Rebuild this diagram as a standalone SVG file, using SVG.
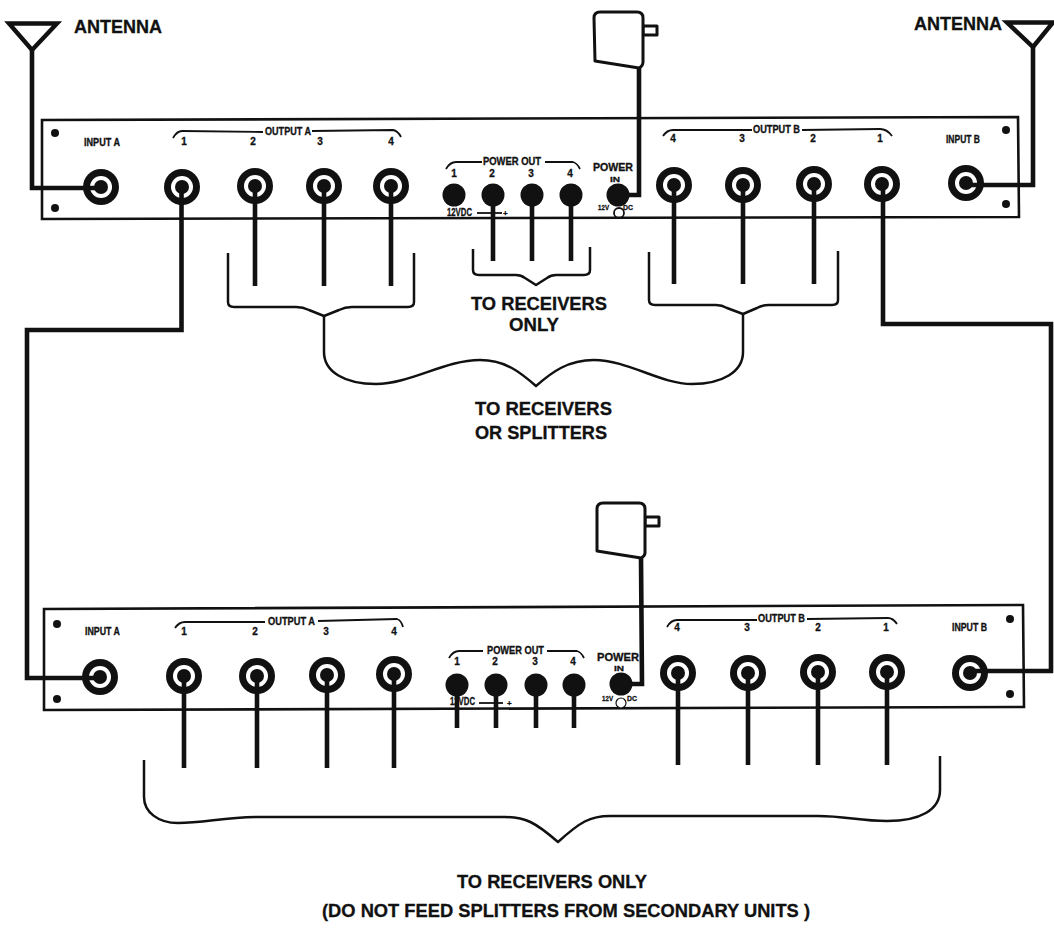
<svg xmlns="http://www.w3.org/2000/svg" width="1054" height="928" viewBox="0 0 1054 928">
<style>
text{font-family:"Liberation Sans",Arial,sans-serif;font-weight:700;fill:#111;stroke:#111;stroke-width:.3}
.big{font-size:18px}
.sm{font-size:10px}
.xs{font-size:8px}
.panel{fill:#fff;stroke:#111;stroke-width:2.6}
.thin{fill:none;stroke:#111;stroke-width:1.8;stroke-linejoin:round}
.brace{fill:none;stroke:#111;stroke-width:2.5;stroke-linejoin:round}
.cable{fill:none;stroke:#111;stroke-width:4.6;stroke-linejoin:miter}
.shape{fill:#fff;stroke:#111;stroke-width:3;stroke-linejoin:round}
.ant{fill:none;stroke:#111;stroke-width:4.4;stroke-linejoin:miter}
.dot{fill:#111}
</style>
<defs>
<g id="socket"><circle r="18" fill="#111"/><circle r="11" fill="#fff"/><circle r="7" fill="#111"/></g>
<g id="jack"><circle r="11.5" fill="#111"/></g>
</defs>
<rect width="1054" height="928" fill="#fff"/>

<g id="unit-top">
<path class="panel" d="M42 120L1018 117L1019 217L42 219Z"/>
<circle class="dot" cx="55" cy="133" r="4"/><circle class="dot" cx="55" cy="208" r="4"/>
<circle class="dot" cx="1006" cy="130" r="4"/><circle class="dot" cx="1006" cy="204" r="4"/>
<text class="sm" x="84" y="146" textLength="36" lengthAdjust="spacingAndGlyphs">INPUT A</text>
<path class="thin" d="M173 138Q177 131 182 131L263 132M312 131L393 130Q398 131 401 137"/>
<text class="sm" x="265" y="135" textLength="46" lengthAdjust="spacingAndGlyphs">OUTPUT A</text>
<text class="sm" text-anchor="middle" x="184" y="145">1</text><text class="sm" text-anchor="middle" x="253" y="145">2</text><text class="sm" text-anchor="middle" x="320" y="145">3</text><text class="sm" text-anchor="middle" x="391" y="145">4</text>
<path class="thin" d="M446 169Q450 162 456 162L482 162M545 162L573 162Q577 163 580 169"/>
<text class="sm" x="483" y="165" textLength="58" lengthAdjust="spacingAndGlyphs">POWER OUT</text>
<text class="sm" text-anchor="middle" x="454" y="177">1</text><text class="sm" text-anchor="middle" x="492" y="177">2</text><text class="sm" text-anchor="middle" x="531" y="177">3</text><text class="sm" text-anchor="middle" x="570" y="177">4</text>
<text class="sm" x="593" y="171" textLength="40" lengthAdjust="spacingAndGlyphs">POWER</text>
<text class="xs" x="610" y="182" textLength="10" lengthAdjust="spacingAndGlyphs">IN</text>
<text class="sm" x="447" y="216" textLength="25" lengthAdjust="spacingAndGlyphs">12VDC</text>
<path class="thin" d="M477 213H502"/><text class="xs" x="503" y="216">+</text>
<text class="xs" x="598" y="210" textLength="11" lengthAdjust="spacingAndGlyphs">12V</text>
<text class="xs" x="623" y="210" textLength="10" lengthAdjust="spacingAndGlyphs">DC</text>
<circle class="thin" cx="619" cy="213" r="5"/>
<path class="thin" d="M663 136Q667 130 673 130L752 130M802 130L880 129Q887 129 892 136"/>
<text class="sm" x="753" y="133" textLength="47" lengthAdjust="spacingAndGlyphs">OUTPUT B</text>
<text class="sm" text-anchor="middle" x="673" y="142">4</text><text class="sm" text-anchor="middle" x="742" y="142">3</text><text class="sm" text-anchor="middle" x="813" y="142">2</text><text class="sm" text-anchor="middle" x="880" y="142">1</text>
<text class="sm" x="946" y="143" textLength="34" lengthAdjust="spacingAndGlyphs">INPUT B</text>
<use href="#socket" x="101" y="187"/>
<use href="#socket" x="182" y="187"/><use href="#socket" x="255" y="186"/><use href="#socket" x="324" y="186"/><use href="#socket" x="391" y="186"/>
<use href="#jack" x="454" y="195"/><use href="#jack" x="493" y="195"/><use href="#jack" x="532" y="195"/><use href="#jack" x="571" y="195"/><use href="#jack" x="618" y="195"/>
<use href="#socket" x="674" y="185"/><use href="#socket" x="743" y="185"/><use href="#socket" x="814" y="184"/><use href="#socket" x="882" y="184"/><use href="#socket" x="966" y="183"/>
</g>

<g id="unit-bottom">
<path class="panel" d="M44 609L1023 605L1024 707L44 710Z"/>
<circle class="dot" cx="57" cy="624" r="4"/><circle class="dot" cx="57" cy="699" r="4"/>
<circle class="dot" cx="1010" cy="619" r="4"/><circle class="dot" cx="1010" cy="694" r="4"/>
<text class="sm" x="85" y="635" textLength="35" lengthAdjust="spacingAndGlyphs">INPUT A</text>
<path class="thin" d="M175 628Q179 622 185 622L265 622M318 621L397 619Q401 620 403 627"/>
<text class="sm" x="268" y="625" textLength="47" lengthAdjust="spacingAndGlyphs">OUTPUT A</text>
<text class="sm" text-anchor="middle" x="184" y="635">1</text><text class="sm" text-anchor="middle" x="255" y="635">2</text><text class="sm" text-anchor="middle" x="326" y="635">3</text><text class="sm" text-anchor="middle" x="394" y="635">4</text>
<path class="thin" d="M449 658Q453 651 459 651L483 651M547 651L577 651Q581 652 584 658"/>
<text class="sm" x="487" y="654" textLength="57" lengthAdjust="spacingAndGlyphs">POWER OUT</text>
<text class="sm" text-anchor="middle" x="457" y="665">1</text><text class="sm" text-anchor="middle" x="495" y="665">2</text><text class="sm" text-anchor="middle" x="535" y="665">3</text><text class="sm" text-anchor="middle" x="573" y="665">4</text>
<text class="sm" x="597" y="661" textLength="42" lengthAdjust="spacingAndGlyphs">POWER</text>
<text class="xs" x="614" y="671" textLength="10" lengthAdjust="spacingAndGlyphs">IN</text>
<text class="sm" x="450" y="705" textLength="25" lengthAdjust="spacingAndGlyphs">12VDC</text>
<path class="thin" d="M479 703H503"/><text class="xs" x="507" y="706">+</text>
<text class="xs" x="602" y="701" textLength="11" lengthAdjust="spacingAndGlyphs">12V</text>
<text class="xs" x="627" y="701" textLength="10" lengthAdjust="spacingAndGlyphs">DC</text>
<circle cx="621" cy="703" r="5" fill="#fff" stroke="#111" stroke-width="1.2"/>
<path class="thin" d="M667 627Q671 620 677 620L757 620M807 619L888 618Q893 618 897 624"/>
<text class="sm" x="758" y="622" textLength="47" lengthAdjust="spacingAndGlyphs">OUTPUT B</text>
<text class="sm" text-anchor="middle" x="677" y="631">4</text><text class="sm" text-anchor="middle" x="747" y="631">3</text><text class="sm" text-anchor="middle" x="818" y="631">2</text><text class="sm" text-anchor="middle" x="886" y="631">1</text>
<text class="sm" x="952" y="631" textLength="35" lengthAdjust="spacingAndGlyphs">INPUT B</text>
<use href="#socket" x="100" y="677"/>
<use href="#socket" x="184" y="676"/><use href="#socket" x="257" y="676"/><use href="#socket" x="327" y="675"/><use href="#socket" x="394" y="674"/>
<use href="#jack" x="457" y="685"/><use href="#jack" x="496" y="685"/><use href="#jack" x="536" y="685"/><use href="#jack" x="574" y="685"/><use href="#jack" x="621" y="684"/>
<use href="#socket" x="678" y="673"/><use href="#socket" x="748" y="673"/><use href="#socket" x="818" y="672"/><use href="#socket" x="887" y="672"/><use href="#socket" x="970" y="673"/>
</g>

<g id="antenna-left">
<path class="ant" d="M9 23.5H57L32 50Z"/>
<text class="big" x="74" y="33" textLength="88" lengthAdjust="spacingAndGlyphs">ANTENNA</text>
</g>
<g id="antenna-right">
<path class="ant" d="M1007 22.5H1053L1033 47Z"/>
<text class="big" x="914" y="30" textLength="88" lengthAdjust="spacingAndGlyphs">ANTENNA</text>
</g>
<g id="adapter-top">
<path class="shape" d="M643 35H657V26H643Z"/>
<path class="shape" d="M594 18Q594 12 600 12H637Q643 12 643 18V62Q643 66 639 68L595 61Z"/>
</g>
<g id="adapter-bottom">
<path class="shape" d="M645 526H659V517H645Z"/>
<path class="shape" d="M597 509Q597 503 603 503H639Q645 503 645 509V553Q645 556 641 558L597 551Z"/>
</g>

<g id="connectors">
<path class="cable" d="M32 50V188H101"/>
<path class="cable" d="M1033 47V185H966"/>
<path class="cable" d="M639 68V195H618"/>
<path class="cable" d="M641 558L642 684H621"/>
<path class="cable" d="M181.500 187V330H27V678H100"/>
<path class="cable" d="M883 184V324H1051V671H970"/>
<path class="cable" d="M255 186V286M324 186V286M391 186V286"/>
<path class="cable" d="M493 195V261M532 195V261M571 195V261"/>
<path class="cable" d="M674 185V284M743 185V284M814 184V284"/>
<path class="cable" d="M184 676V768M257 676V768M327 675V768M394 674V768"/>
<path class="cable" d="M457 685V728M496 685V728M536 685V728M574 685V728"/>
<path class="cable" d="M678 673V765M748 673V765M818 672V765M887 672V765"/>
</g>

<g id="braces">
<path class="brace" d="M228 253V302Q228 307 234 307H296Q303 307 309 310L324 316L339 310Q345 307 352 307H408Q414 307 414 302V253"/>
<path class="brace" d="M473 249V270Q473 275 479 275H516Q521 275 525 278L536 285L547 278Q551 275 556 275H584Q590 275 590 270V247"/>
<path class="brace" d="M649 252V300Q649 305 655 305H716Q722 305 727 308L743 314L757 308Q762 305 769 305H832Q838 305 838 300V251"/>
<path class="brace" d="M324 316V352C324 372 345 384 376 384C410 384 445 360 480 360C505 360 520 372 536 386C552 372 568 360 594 360C628 360 660 384 692 384C722 384 743 372 743 352V314"/>
<path class="brace" d="M144 760V797C144 812 158 823 178 823C205 823 225 817 262 817H505C525 817 535 822 558 842C580 822 590 816 610 816H818C845 816 860 821 887 821C920 821 940 810 940 790V756"/>
</g>

<g id="labels">
<text class="big" x="471" y="310" textLength="136" lengthAdjust="spacingAndGlyphs">TO RECEIVERS</text>
<text class="big" x="509" y="331" textLength="50" lengthAdjust="spacingAndGlyphs">ONLY</text>
<text class="big" x="475" y="415" textLength="137" lengthAdjust="spacingAndGlyphs">TO RECEIVERS</text>
<text class="big" x="475" y="439" textLength="132" lengthAdjust="spacingAndGlyphs">OR SPLITTERS</text>
<text class="big" x="457" y="888" textLength="190" lengthAdjust="spacingAndGlyphs">TO RECEIVERS ONLY</text>
<text class="big" x="322" y="917" textLength="488" lengthAdjust="spacingAndGlyphs">(DO NOT FEED SPLITTERS FROM SECONDARY UNITS )</text>
</g>
</svg>
